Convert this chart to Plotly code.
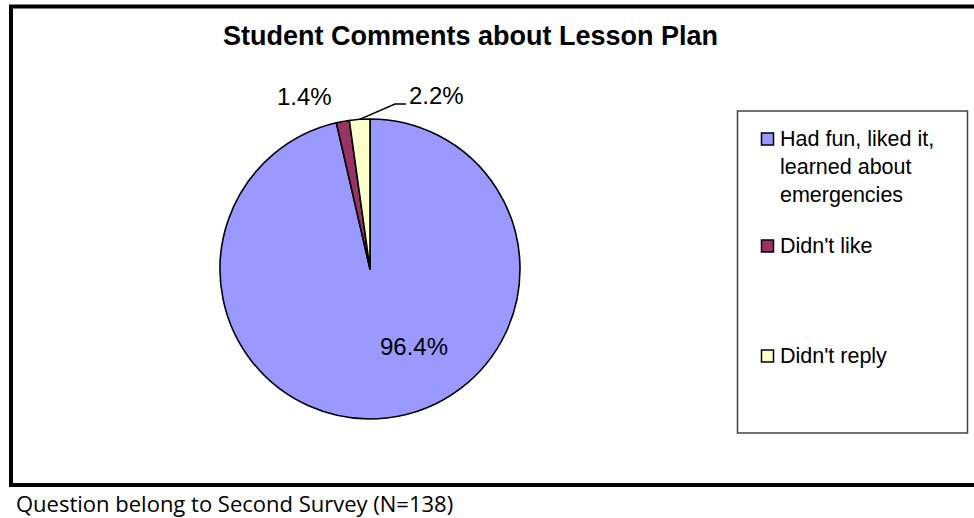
import math
import plotly.graph_objects as go

# Survey responses (second survey, N=138)
categories = ["Had fun, liked it, learned about emergencies", "Didn't like", "Didn't reply"]
legend_labels = ["Had fun, liked it,<br>learned about<br>emergencies", "Didn't like", "Didn't reply"]
shares = [96.4, 1.4, 2.2]
colors = ["#9999FF", "#993366", "#FFFFCC"]

W, H = 974, 518
cx, cy, r = 370, 269, 150  # pie centre and radius in pixels
FONT = "Liberation Sans, Arial"


def px(x):
    return x / W


def py(y):
    return 1 - y / H


fig = go.Figure(
    go.Pie(
        labels=categories,
        values=shares,
        sort=False,
        direction="clockwise",
        rotation=0,
        marker=dict(colors=colors, line=dict(color="black", width=1.6)),
        textinfo="none",
        hoverinfo="label+percent",
        showlegend=False,
        domain=dict(x=[px(cx - r), px(cx + r)], y=[py(cy + r), py(cy - r)]),
    )
)

shapes = []
annotations = []


def label(x, y, text, size, xanchor="center", family=FONT):
    annotations.append(dict(xref="paper", yref="paper", x=px(x), y=py(y),
                            xanchor=xanchor, yanchor="middle", text=text,
                            showarrow=False, align="left",
                            font=dict(family=family, size=size, color="black")))


# outer chart frame
shapes.append(dict(type="rect", xref="paper", yref="paper",
                   x0=px(11), x1=px(990), y0=py(485), y1=py(6.5),
                   line=dict(color="black", width=4)))

# legend frame
shapes.append(dict(type="rect", xref="paper", yref="paper",
                   x0=px(737.5), x1=px(967.5), y0=py(433), y1=py(111),
                   line=dict(color="#444444", width=1.5)))

# legend entries
marker_y = [139, 246, 356]
text_y = [167, 246, 356]
for lab, col, my, ty in zip(legend_labels, colors, marker_y, text_y):
    shapes.append(dict(type="rect", xref="paper", yref="paper",
                       x0=px(761.5), x1=px(773.5), y0=py(my + 6), y1=py(my - 6),
                       fillcolor=col, line=dict(color="black", width=1.5)))
    label(778, ty, lab, 21.5, xanchor="left")

# percentage labels
pct = ["%.1f%%" % v for v in shares]
label(414, 346, pct[0], 24)
label(304, 97, pct[1], 24)
label(407, 96, pct[2], 24, xanchor="left")

# leader line to the 'Didn't reply' slice midpoint
mid = (shares[0] + shares[1] + shares[2] / 2) / sum(shares) * 2 * math.pi
sx = cx + r * math.sin(mid)
sy = cy - r * math.cos(mid)
shapes.append(dict(type="path", xref="paper", yref="paper",
                   path="M %f,%f L %f,%f L %f,%f" % (px(sx), py(sy), px(395), py(104), px(406), py(104)),
                   line=dict(color="black", width=1.5)))

# chart title
label(470, 36, "<b>Student Comments about Lesson Plan</b>", 27)

# caption under the frame
label(14, 503, "Question belong to Second Survey (N=138)", 22, xanchor="left", family="Open Sans")

fig.update_layout(
    width=W, height=H,
    margin=dict(l=0, r=0, t=0, b=0),
    paper_bgcolor="white",
    plot_bgcolor="white",
    shapes=shapes,
    annotations=annotations,
)

fig.write_html("out.html")
